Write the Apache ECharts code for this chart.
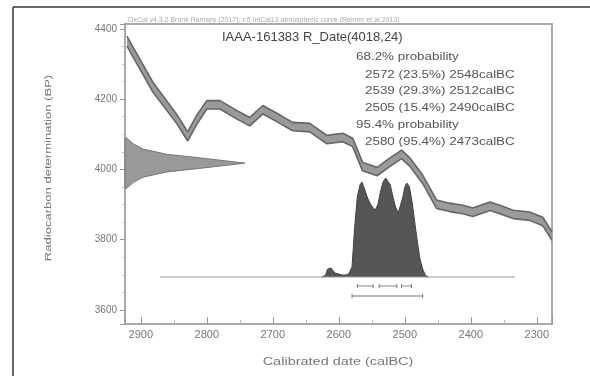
<!DOCTYPE html>
<html>
<head>
<meta charset="utf-8">
<script src="https://cdn.jsdelivr.net/npm/echarts@6/dist/echarts.min.js"></script>
<style>
  html, body { margin: 0; padding: 0; background: #fff; }
  #main { width: 590px; height: 376px; }
</style>
</head>
<body>
<div id="main"></div>
<script>
// calibration curve (calBC, BP)
var curveCal = [2921, 2882, 2845, 2829, 2815, 2800, 2780, 2755, 2735, 2715, 2694, 2670, 2644, 2618, 2594, 2579,
                2564, 2542, 2523, 2505, 2492, 2473, 2452, 2432, 2412, 2397, 2371, 2356, 2336, 2311, 2291, 2277];
var curveBP  = [4365, 4235, 4142, 4094, 4142, 4184, 4184, 4156, 4136, 4170, 4148, 4122, 4119, 4085, 4091, 4077,
                4008, 3994, 4020, 4043, 4020, 3972, 3901, 3892, 3886, 3878, 3895, 3886, 3872, 3867, 3852, 3810];
var curveErr = [14, 14, 13, 13, 13, 12, 12, 12, 12, 12, 12, 12, 12, 12, 12, 12,
                12, 12, 12, 12, 12, 12, 12, 12, 12, 12, 12, 12, 12, 12, 12, 12];

// measured date 4018 +/- 24 BP, shape on the y axis
var gaussBP   = [3946, 3963, 3978, 3993, 4003, 4010, 4018, 4026, 4033, 4043, 4058, 4073, 4090];
var gaussDens = [0.01, 0.07, 0.15, 0.35, 0.62, 0.8, 1.0, 0.8, 0.62, 0.35, 0.15, 0.07, 0.01];

// calibrated distribution
var calDate = [2625, 2620, 2617, 2612, 2606, 2600, 2595, 2590, 2585, 2580, 2576, 2572, 2568, 2565, 2561, 2557,
               2553, 2549, 2545, 2541, 2537, 2533, 2529, 2526, 2522, 2518, 2514, 2510, 2507, 2503, 2500, 2497,
               2493, 2489, 2485, 2481, 2477, 2473, 2469, 2465];
var calProb = [0, 2, 8, 9, 4, 3, 2, 2, 3, 10, 50, 80, 92, 95, 88, 80,
               74, 70, 67, 72, 85, 95, 99, 99, 92, 80, 70, 64, 66, 80, 90, 94,
               90, 75, 55, 35, 18, 8, 2, 0];
var baseRange = [2871, 2333];

var range68 = [[2572, 2548], [2539, 2512], [2505, 2490]];
var range95 = [[2580, 2473]];

var xTicks = [2900, 2800, 2700, 2600, 2500, 2400, 2300];

var titleText = 'IAAA-161383 R_Date(4018,24)';
var probLines = ['68.2% probability', '2572 (23.5%) 2548calBC', '2539 (29.3%) 2512calBC',
                 '2505 (15.4%) 2490calBC', '95.4% probability', '2580 (95.4%) 2473calBC'];
var headerText = 'OxCal v4.3.2 Bronk Ramsey (2017); r:5 IntCal13 atmospheric curve (Reimer et al 2013)';

var font = '"Liberation Sans", Arial, sans-serif';

var curveData = curveCal.map(function (c, i) { return [c, curveBP[i]]; });
var hiData = curveCal.map(function (c, i) { return [c, curveBP[i] + curveErr[i]]; });
var loData = curveCal.map(function (c, i) { return [c, curveBP[i] - curveErr[i]]; });
var gaussData = gaussBP.map(function (b, i) { return [gaussDens[i], b]; });
var calData = calDate.map(function (c, i) { return [c, calProb[i]]; });

var rangeLine = function (ranges, level) {
    var out = [];
    ranges.forEach(function (r, i) {
        if (i > 0) out.push('-');
        out.push([r[0], level], [r[1], level]);
    });
    return out;
};

var dom = document.getElementById('main');
var chart = echarts.init(dom);

var probY = [57, 75, 91, 108, 125, 142];
var probGraphics = probLines.map(function (t, i) {
    var isHead = t.indexOf('probability') >= 0;
    return {
        type: 'text', x: isHead ? 356 : 365, y: probY[i], scaleX: 1.34,
        style: { text: t, font: '10px ' + font, fill: '#555', textAlign: 'left', textVerticalAlign: 'middle' }
    };
});

option = {
    animation: false,
    backgroundColor: '#fff',
    grid: { left: 125, top: 24, right: 38, bottom: 52, show: true, borderColor: '#aaa', borderWidth: 2 },
    xAxis: [
        {
            type: 'value', inverse: true, min: 2277, max: 2924,
            axisLine: { show: true, onZero: false, lineStyle: { color: '#aaa', width: 2 } },
            axisTick: { show: true, inside: true, length: 7, lineStyle: { color: '#999' } },
            minorTick: { show: true, splitNumber: 2, length: 4, lineStyle: { color: '#bbb' } },
            axisLabel: {
                color: '#777', fontSize: 11, fontFamily: font, margin: 5,
                formatter: function (v) { return xTicks.indexOf(v) >= 0 ? String(v) : ''; }
            },
            splitLine: { show: false }
        },
        { type: 'value', min: 0, max: 3.56, show: false, axisLine: { onZero: false } }
    ],
    yAxis: [
        {
            type: 'value', min: 3560, max: 4414,
            axisLine: { show: true, onZero: false, lineStyle: { color: '#aaa', width: 2 } },
            axisTick: { show: true, inside: false, length: 5, lineStyle: { color: '#999' } },
            minorTick: { show: true, splitNumber: 4, length: 3, lineStyle: { color: '#bbb' } },
            axisLabel: {
                color: '#777', fontSize: 10, fontFamily: font, margin: 8,
                formatter: function (v) { return v % 200 === 0 ? String(v) : ''; }
            },
            splitLine: { show: false }
        },
        { type: 'value', min: -47, max: 253, show: false, axisLine: { onZero: false } }
    ],
    graphic: [
        { type: 'line', shape: { x1: 13, y1: 7, x2: 590, y2: 7 }, style: { stroke: '#333', lineWidth: 1.5 } },
        { type: 'line', shape: { x1: 13, y1: 7, x2: 13, y2: 376 }, style: { stroke: '#333', lineWidth: 1.5 } },
        { type: 'text', left: 128, top: 17, style: { text: headerText, font: '7px ' + font, fill: '#aaa' } },
        { type: 'text', left: 222, top: 31, style: { text: titleText, font: '13px ' + font, fill: '#444' } },
        {
            type: 'text', x: 338, y: 362, scaleX: 1.45,
            style: { text: 'Calibrated date (calBC)', font: '10px ' + font, fill: '#777',
                     textAlign: 'center', textVerticalAlign: 'middle' }
        },
        {
            type: 'text', x: 49, y: 168, rotation: Math.PI / 2, scaleX: 1.45,
            style: { text: 'Radiocarbon determination (BP)', font: '9px ' + font, fill: '#777',
                     textAlign: 'center', textVerticalAlign: 'middle' }
        }
    ].concat(probGraphics),
    series: [
        {
            name: 'gauss', type: 'custom', xAxisIndex: 1, yAxisIndex: 0, data: gaussData, silent: true,
            renderItem: function (params, api) {
                if (params.dataIndex !== 0) return null;
                var pts = [api.coord([0, gaussBP[0]])];
                gaussData.forEach(function (d) { pts.push(api.coord(d)); });
                pts.push(api.coord([0, gaussBP[gaussBP.length - 1]]));
                return { type: 'polygon', shape: { points: pts },
                         style: { fill: '#999', stroke: '#777', lineWidth: 1 } };
            }
        },
        {
            name: 'band', type: 'custom', xAxisIndex: 0, yAxisIndex: 0, data: curveData, silent: true,
            renderItem: function (params, api) {
                if (params.dataIndex !== 0) return null;
                var pts = hiData.map(function (d) { return api.coord(d); });
                for (var i = loData.length - 1; i >= 0; i--) pts.push(api.coord(loData[i]));
                return { type: 'polygon', shape: { points: pts }, style: { fill: '#9a9a9a' } };
            }
        },
        {
            name: 'hi', type: 'line', xAxisIndex: 0, yAxisIndex: 0, data: hiData, symbol: 'none',
            lineStyle: { color: '#666', width: 1.6 }
        },
        {
            name: 'lo', type: 'line', xAxisIndex: 0, yAxisIndex: 0, data: loData, symbol: 'none',
            lineStyle: { color: '#666', width: 1.6 }
        },
        {
            name: 'base', type: 'line', xAxisIndex: 0, yAxisIndex: 1, symbol: 'none',
            data: [[baseRange[0], 0], [baseRange[1], 0]],
            lineStyle: { color: '#999', width: 1 }
        },
        {
            name: 'calibrated', type: 'line', xAxisIndex: 0, yAxisIndex: 1, data: calData, symbol: 'none',
            lineStyle: { color: '#444', width: 1 },
            areaStyle: { color: '#555', opacity: 1 }
        },
        {
            name: 'r68', type: 'line', xAxisIndex: 0, yAxisIndex: 1, data: rangeLine(range68, -9),
            symbol: 'rect', symbolSize: [1, 4], itemStyle: { color: '#777' },
            lineStyle: { color: '#888', width: 1 }
        },
        {
            name: 'r95', type: 'line', xAxisIndex: 0, yAxisIndex: 1, data: rangeLine(range95, -19),
            symbol: 'rect', symbolSize: [1, 4], itemStyle: { color: '#777' },
            lineStyle: { color: '#777', width: 1.2 }
        }
    ]
};

if (option && typeof option === "object") {
    chart.setOption(option, true);
}
</script>
</body>
</html>
